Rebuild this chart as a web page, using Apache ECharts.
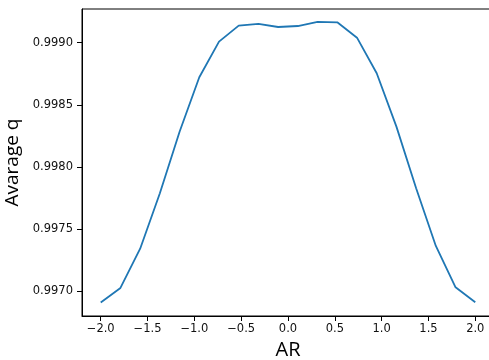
<!DOCTYPE html>
<html><head><meta charset="utf-8">
<script src="https://cdn.jsdelivr.net/npm/echarts@6/dist/echarts.min.js"></script>
<style>html,body{margin:0;padding:0;background:#fff}#c{width:489px;height:360px}</style>
</head><body><div id="c"></div>
<script>
const arValues = [-2.0,-1.7895,-1.5789,-1.3684,-1.1579,-0.9474,-0.7368,-0.5263,-0.3158,-0.1053,0.1053,0.3158,0.5263,0.7368,0.9474,1.1579,1.3684,1.5789,1.7895,2.0];
const avgQ = [0.996907,0.997025,0.997341,0.997787,0.998283,0.998721,0.999008,0.999137,0.999151,0.999126,0.999134,0.999167,0.999164,0.999040,0.998754,0.998324,0.997828,0.997363,0.997030,0.996910];
const xTicks = [-2.0,-1.5,-1.0,-0.5,0.0,0.5,1.0,1.5,2.0];
const yTicks = [0.9970,0.9975,0.9980,0.9985,0.9990];

const chart = echarts.init(document.getElementById('c'), null, {renderer:'canvas'});
const font = 'DejaVu Sans';
const nameFont = 'Open Sans';
chart.setOption({
  animation:false,
  grid:{left:82, top:9, width:412, bottom:44, show:true, borderColor:'#000', borderWidth:1, backgroundColor:'transparent', containLabel:false, outerBoundsMode:'none'},
  xAxis:{type:'value', min:-2.2, max:2.2,
    name:'AR', nameLocation:'middle', nameGap:22,
    nameTextStyle:{fontFamily:nameFont, fontSize:20, color:'#000'},
    axisLine:{show:true, onZero:false, lineStyle:{color:'#000', width:1}},
    axisTick:{show:true, length:5, inside:false, customValues:xTicks, lineStyle:{color:'#000'}},
    axisLabel:{customValues:xTicks, fontFamily:font, fontSize:11.5, color:'#111', margin:7,
      formatter:v=>{const s=Math.abs(v).toFixed(1); return (v< -1e-9?'\u2212':'')+s;}},
    splitLine:{show:false}},
  yAxis:{type:'value', min:0.996799, max:0.999271,
    name:'Avarage q', nameLocation:'middle', nameGap:50,
    nameTextStyle:{fontFamily:nameFont, fontSize:19, color:'#000'},
    axisLine:{show:true, onZero:false, lineStyle:{color:'#000', width:1}},
    axisTick:{show:true, length:5, customValues:yTicks, lineStyle:{color:'#000'}},
    axisLabel:{customValues:yTicks, fontFamily:font, fontSize:11.5, color:'#111', margin:9,
      formatter:v=>v.toFixed(4)},
    splitLine:{show:false}},
  series:[{type:'line', data:arValues.map((x,i)=>[x,avgQ[i]]), showSymbol:false,
    lineStyle:{color:'#1f77b4', width:1.8}, itemStyle:{color:'#1f77b4'}}]
});
</script></body></html>
